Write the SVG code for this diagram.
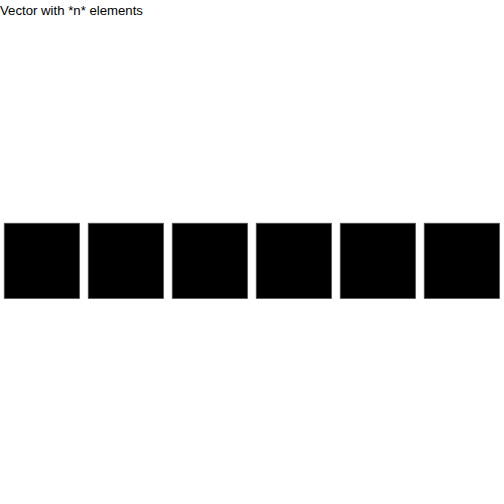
<svg xmlns="http://www.w3.org/2000/svg" width="504" height="504" viewBox="0 0 504 504">
<style>
.t{font-family:"Liberation Sans",Arial,sans-serif;font-size:13.2px;fill:#000}
.c{fill:#000;stroke:#595959;stroke-width:0.7}
</style>
<rect width="504" height="504" fill="#fff"/>
<text class="t" x="0" y="14.5">Vector with *n* elements</text>
<g id="e1"><rect class="c" x="4.2" y="223.2" width="75.4" height="75.4"/></g>
<g id="e2"><rect class="c" x="88.2" y="223.2" width="75.4" height="75.4"/></g>
<g id="e3"><rect class="c" x="172.2" y="223.2" width="75.4" height="75.4"/></g>
<g id="e4"><rect class="c" x="256.2" y="223.2" width="75.4" height="75.4"/></g>
<g id="e5"><rect class="c" x="340.2" y="223.2" width="75.4" height="75.4"/></g>
<g id="e6"><rect class="c" x="424.2" y="223.2" width="75.4" height="75.4"/></g>
<g id="connectors"></g>
</svg>
